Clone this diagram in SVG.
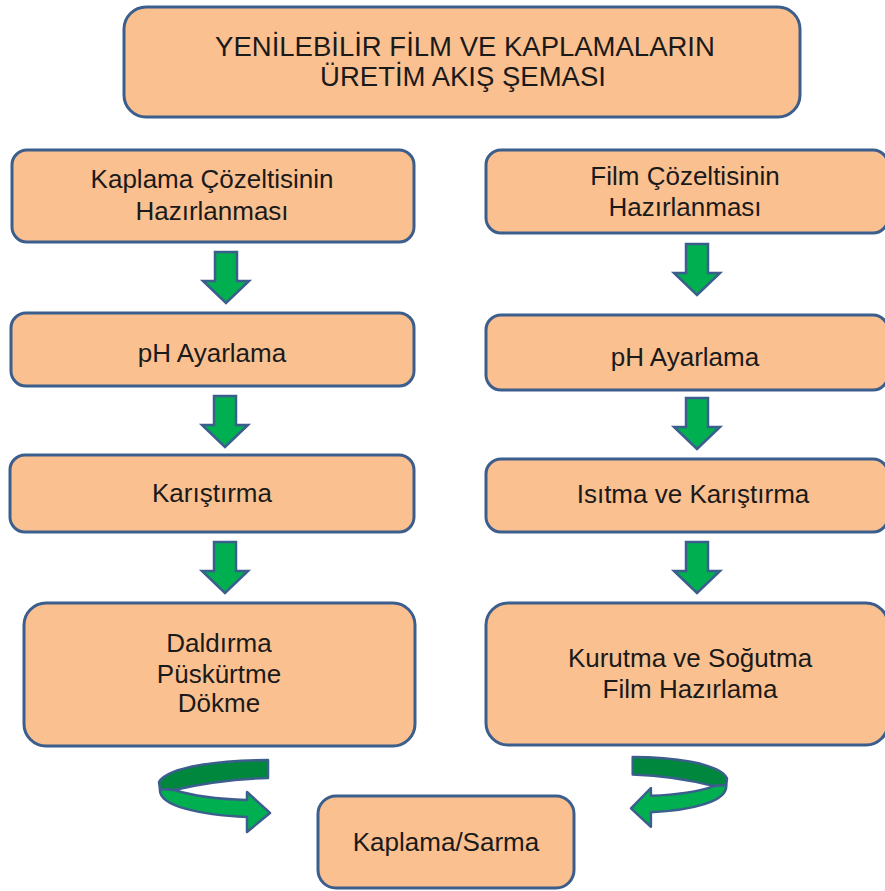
<svg xmlns="http://www.w3.org/2000/svg" width="885" height="891" viewBox="0 0 885 891">
<style>
.box{fill:#FAC090;stroke:#3B5E8C;stroke-width:3}
.t{font-family:"Liberation Sans",Arial,sans-serif;font-size:26px;fill:#1a1a1a;text-anchor:middle}
.ttl{font-size:27.5px}
.arr{fill:#00B050;stroke:#3B5E8C;stroke-width:2.5;stroke-linejoin:miter}
.back{fill:#00873E;stroke:#3B5E8C;stroke-width:2.5;stroke-linejoin:round}
.front{fill:#00B050;stroke:#3B5E8C;stroke-width:2.5;stroke-linejoin:round}
</style>
<defs>
<path id="down" d="M-11,0 H11 V29 H23 L0,51 L-23,29 H-11 Z"/>
</defs>
<rect width="885" height="891" fill="#ffffff"/>
<g id="title">
<rect class="box" x="124" y="7" width="676" height="110" rx="22"/>
<text class="t ttl" x="465" y="56">YENİLEBİLİR FİLM VE KAPLAMALARIN</text>
<text class="t ttl" x="463" y="86">ÜRETİM AKIŞ ŞEMASI</text>
</g>
<g id="left1">
<rect class="box" x="12" y="150" width="402" height="92" rx="15"/>
<text class="t" x="212" y="188">Kaplama Çözeltisinin</text>
<text class="t" x="212" y="220">Hazırlanması</text>
</g>
<g id="right1">
<rect class="box" x="486" y="150" width="402" height="83" rx="15"/>
<text class="t" x="685" y="185">Film Çözeltisinin</text>
<text class="t" x="685" y="216">Hazırlanması</text>
</g>
<g id="left2">
<rect class="box" x="11" y="313" width="403" height="73" rx="15"/>
<text class="t" x="212" y="362">pH Ayarlama</text>
</g>
<g id="right2">
<rect class="box" x="486" y="315" width="402" height="75" rx="15"/>
<text class="t" x="685" y="366">pH Ayarlama</text>
</g>
<g id="left3">
<rect class="box" x="10" y="455" width="404" height="77" rx="15"/>
<text class="t" x="212" y="502">Karıştırma</text>
</g>
<g id="right3">
<rect class="box" x="486" y="459" width="402" height="73" rx="15"/>
<text class="t" x="693" y="503">Isıtma ve Karıştırma</text>
</g>
<g id="left4">
<rect class="box" x="24" y="603" width="391" height="143" rx="22"/>
<text class="t" x="219" y="652">Daldırma</text>
<text class="t" x="219" y="683">Püskürtme</text>
<text class="t" x="219" y="712">Dökme</text>
</g>
<g id="right4">
<rect class="box" x="486" y="603" width="402" height="142" rx="22"/>
<text class="t" x="690" y="667">Kurutma ve Soğutma</text>
<text class="t" x="690" y="698">Film Hazırlama</text>
</g>
<g id="bottom">
<rect class="box" x="318" y="796" width="256" height="92" rx="18"/>
<text class="t" x="446" y="851">Kaplama/Sarma</text>
</g>
<g id="connectors">
<use href="#down" class="arr" x="226" y="252"/>
<use href="#down" class="arr" x="225" y="396"/>
<use href="#down" class="arr" x="225" y="542"/>
<use href="#down" class="arr" x="697" y="244"/>
<use href="#down" class="arr" x="697" y="398"/>
<use href="#down" class="arr" x="697" y="542"/>
<path class="back" d="M268,760 C225,760 168,766 159,782 L160,789 L174,790 C200,784 235,779 268,778 Z"/>
<path class="front" d="M160,789 C158,806 200,815 247,817 L247,832 L270,813 L247,792 L247,800 C215,799 190,795 174,790 Z"/>
<path class="back" d="M632.7,757 C669.9,757 719.2,762.8 727,778.3 L726.2,785.1 L714,786.1 C691.6,780.3 661.3,775.4 632.7,774.5 Z"/>
<path class="front" d="M726.2,785.1 C727.9,801.6 691.6,810.4 650.9,812.3 L650.9,826.8 L631,808.4 L650.9,788 L650.9,795.8 C678.6,794.8 700.2,791 714,786.1 Z"/>
</g>
</svg>
